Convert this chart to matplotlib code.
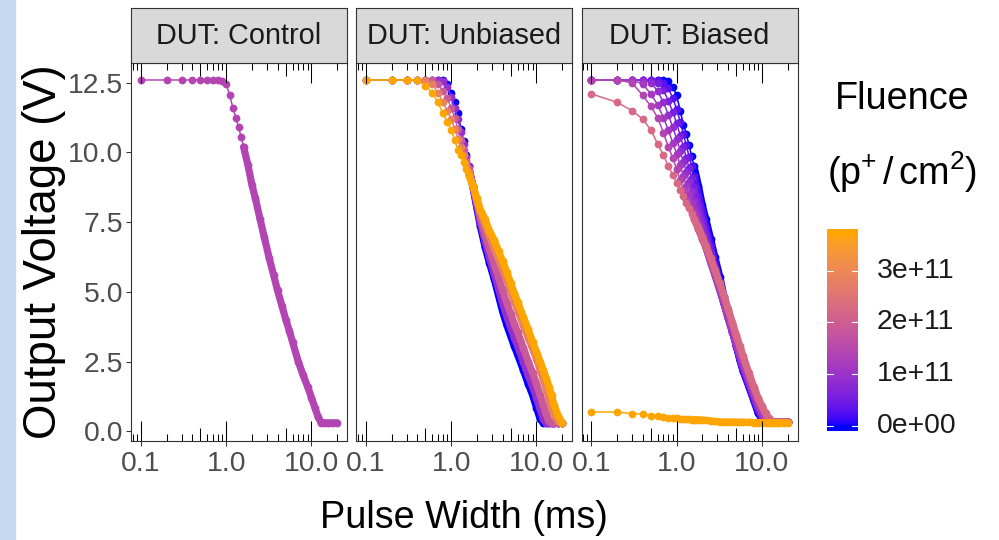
import numpy as np
import matplotlib
matplotlib.use('Agg')
import matplotlib.pyplot as plt
from matplotlib import font_manager
from matplotlib.colors import ListedColormap
from matplotlib.patches import Rectangle
from matplotlib.ticker import NullLocator

# pulse widths (ms) at which every curve was sampled
pulse_ms = [0.1, 0.2, 0.3, 0.4, 0.5, 0.6, 0.7, 0.8, 0.9, 1.0,
            1.1, 1.2, 1.3, 1.4, 1.5, 1.6, 1.8, 2.0, 2.2, 2.5,
            2.8, 3.2, 3.6, 4.0, 4.5, 5.0, 5.5, 6.0, 7.0, 8.0,
            9.0, 10, 11, 12, 13, 14, 15, 16, 18, 20]

# DUT: Control
control_fluence = [1.4e11]
control_v = [
    [12.6, 12.6, 12.6, 12.6, 12.6, 12.6, 12.6, 12.6, 12.58, 12.45,
     12.05, 11.6, 11.25, 10.9, 10.55, 10.2, 9.55, 8.85, 8.35, 7.6,
     6.95, 6.2, 5.6, 5.05, 4.5, 4.0, 3.6, 3.2, 2.5, 2.0,
     1.6, 1.2, 0.83, 0.5, 0.3, 0.3, 0.3, 0.3, 0.3, 0.3],
]

# DUT: Unbiased
unbiased_fluence = [0.0, 0.9e11, 1.85e11, 2.8e11, 3.7e11]
unbiased_v = [
    [12.6, 12.6, 12.6, 12.6, 12.6, 12.6, 12.6, 12.6, 12.45, 12.15,
     11.8, 11.4, 10.85, 10.4, 9.9, 9.5, 8.75, 8.0, 7.35, 6.6,
     6.05, 5.45, 4.85, 4.3, 3.8, 3.4, 3.05, 2.75, 2.2, 1.7,
     1.3, 0.85, 0.45, 0.3, 0.3, 0.3, 0.3, 0.3, 0.3, 0.3],
    [12.6, 12.6, 12.6, 12.6, 12.6, 12.6, 12.6, 12.55, 12.35, 12.0,
     11.6, 11.2, 10.75, 10.3, 9.85, 9.5, 8.8, 8.1, 7.5, 6.8,
     6.25, 5.65, 5.1, 4.6, 4.1, 3.7, 3.35, 3.05, 2.5, 2.0,
     1.6, 1.2, 0.8, 0.45, 0.3, 0.3, 0.3, 0.3, 0.3, 0.3],
    [12.6, 12.6, 12.6, 12.6, 12.6, 12.6, 12.45, 12.2, 11.95, 11.6,
     11.25, 10.85, 10.45, 10.1, 9.7, 9.4, 8.8, 8.2, 7.65, 7.05,
     6.55, 6.0, 5.5, 5.05, 4.6, 4.2, 3.85, 3.55, 3.0, 2.5,
     2.1, 1.7, 1.3, 0.95, 0.6, 0.35, 0.3, 0.3, 0.3, 0.3],
    [12.6, 12.6, 12.6, 12.6, 12.6, 12.45, 12.15, 11.8, 11.5, 11.2,
     10.85, 10.5, 10.2, 9.9, 9.55, 9.3, 8.8, 8.3, 7.85, 7.4,
     7.0, 6.55, 6.15, 5.8, 5.4, 5.0, 4.65, 4.35, 3.8, 3.35,
     2.95, 2.6, 2.2, 1.85, 1.5, 1.15, 0.85, 0.6, 0.35, 0.3],
    [12.6, 12.6, 12.6, 12.6, 12.4, 12.15, 11.8, 11.4, 11.1, 10.8,
     10.45, 10.1, 9.9, 9.65, 9.4, 9.2, 8.8, 8.35, 7.95, 7.6,
     7.2, 6.85, 6.45, 6.1, 5.7, 5.3, 4.95, 4.65, 4.1, 3.65,
     3.2, 2.85, 2.5, 2.2, 1.9, 1.6, 1.3, 0.95, 0.55, 0.3],
]

# DUT: Biased
biased_fluence = [0.0, 0.28e11, 0.56e11, 0.84e11, 1.12e11, 1.4e11, 2.25e11, 3.7e11]
biased_v = [
    [12.6, 12.6, 12.6, 12.6, 12.6, 12.6, 12.6, 12.55, 12.35, 12.05,
     11.5, 11.0, 10.65, 10.25, 9.87, 9.5, 8.8, 8.1, 7.6, 6.9,
     6.25, 5.55, 4.8, 4.25, 3.65, 3.05, 2.55, 2.15, 1.6, 1.1,
     0.65, 0.42, 0.35, 0.33, 0.33, 0.33, 0.33, 0.33, 0.33, 0.33],
    [12.6, 12.6, 12.6, 12.6, 12.6, 12.6, 12.5, 12.3, 11.95, 11.55,
     11.1, 10.65, 10.25, 9.85, 9.5, 9.15, 8.45, 7.85, 7.3, 6.65,
     6.05, 5.35, 4.7, 4.15, 3.6, 3.05, 2.6, 2.2, 1.65, 1.15,
     0.75, 0.48, 0.38, 0.33, 0.33, 0.33, 0.33, 0.33, 0.33, 0.33],
    [12.6, 12.6, 12.6, 12.6, 12.6, 12.5, 12.25, 11.85, 11.45, 11.05,
     10.6, 10.2, 9.8, 9.45, 9.1, 8.75, 8.1, 7.55, 7.05, 6.4,
     5.85, 5.2, 4.6, 4.1, 3.55, 3.1, 2.65, 2.3, 1.75, 1.25,
     0.85, 0.55, 0.4, 0.33, 0.33, 0.33, 0.33, 0.33, 0.33, 0.33],
    [12.6, 12.6, 12.6, 12.6, 12.5, 12.2, 11.8, 11.35, 10.9, 10.5,
     10.05, 9.65, 9.3, 8.95, 8.6, 8.3, 7.75, 7.25, 6.8, 6.2,
     5.7, 5.1, 4.55, 4.05, 3.55, 3.1, 2.7, 2.35, 1.8, 1.3,
     0.9, 0.6, 0.42, 0.35, 0.33, 0.33, 0.33, 0.33, 0.33, 0.33],
    [12.6, 12.6, 12.6, 12.45, 12.1, 11.7, 11.25, 10.8, 10.35, 9.95,
     9.55, 9.15, 8.8, 8.5, 8.2, 7.95, 7.45, 7.0, 6.6, 6.05,
     5.6, 5.05, 4.55, 4.1, 3.6, 3.15, 2.75, 2.4, 1.85, 1.35,
     0.95, 0.65, 0.45, 0.35, 0.33, 0.33, 0.33, 0.33, 0.33, 0.33],
    [12.6, 12.6, 12.5, 12.05, 11.65, 11.25, 10.7, 10.2, 9.8, 9.4,
     9.0, 8.65, 8.3, 8.05, 7.85, 7.65, 7.25, 6.9, 6.6, 6.1,
     5.7, 5.2, 4.75, 4.3, 3.8, 3.35, 2.95, 2.6, 2.0, 1.5,
     1.1, 0.8, 0.55, 0.4, 0.33, 0.33, 0.33, 0.33, 0.33, 0.33],
    [12.1, 11.8, 11.5, 11.2, 10.8, 10.3, 9.9, 9.5, 9.2, 8.9,
     8.67, 8.45, 8.2, 8.0, 7.8, 7.6, 7.3, 6.95, 6.65, 6.2,
     5.8, 5.3, 4.85, 4.4, 3.9, 3.45, 3.05, 2.7, 2.1, 1.6,
     1.2, 0.9, 0.65, 0.46, 0.36, 0.33, 0.33, 0.33, 0.33, 0.33],
    [0.69, 0.69, 0.63, 0.62, 0.56, 0.53, 0.51, 0.49, 0.47, 0.46,
     0.45, 0.44, 0.43, 0.43, 0.42, 0.42, 0.41, 0.40, 0.39, 0.37,
     0.35, 0.34, 0.33, 0.33, 0.33, 0.33, 0.32, 0.32, 0.32, 0.31,
     0.31, 0.31, 0.30, 0.30, 0.30, 0.30, 0.30, 0.30, 0.30, 0.30],
]

panel_titles = ['DUT: Control', 'DUT: Unbiased', 'DUT: Biased']
panel_fluence = [control_fluence, unbiased_fluence, biased_fluence]
panel_v = [control_v, unbiased_v, biased_v]

fluence_max = 3.7e11
cbar_ticks = [0, 1e11, 2e11, 3e11]
cbar_labels = ['0e+00', '1e+11', '2e+11', '3e+11']
x_ticks = [0.1, 1, 10]
x_labels = ['0.1', '1.0', '10.0']
y_ticks = [0, 2.5, 5, 7.5, 10, 12.5]
y_labels = ['0.0', '2.5', '5.0', '7.5', '10.0', '12.5']

# fonts
names = {f.name for f in font_manager.fontManager.ttflist}
if 'Liberation Sans Narrow' in names:
    main_font, k = 'Liberation Sans Narrow', 1.0
else:
    main_font, k = 'Liberation Sans', 0.85
plt.rcParams['font.family'] = [main_font, 'DejaVu Sans']
plt.rcParams['mathtext.fontset'] = 'custom'
plt.rcParams['mathtext.rm'] = main_font
plt.rcParams['mathtext.it'] = main_font


# ggplot style gradient: blue -> orange interpolated in CIELAB
M = np.array([[0.4124, 0.3576, 0.1805],
              [0.2126, 0.7152, 0.0722],
              [0.0193, 0.1192, 0.9505]])
WHITE = np.array([0.95047, 1.0, 1.08883])


def rgb2lab(c):
    c = np.asarray(c, float)
    lin = np.where(c > 0.04045, ((c + 0.055) / 1.055) ** 2.4, c / 12.92)
    xyz = M @ lin / WHITE
    f = np.where(xyz > 0.008856, np.cbrt(xyz), 7.787 * xyz + 16 / 116)
    return np.array([116 * f[1] - 16, 500 * (f[0] - f[1]), 200 * (f[1] - f[2])])


def lab2rgb(lab):
    L, a, b = lab
    fy = (L + 16) / 116
    f = np.array([fy + a / 500, fy, fy - b / 200])
    xyz = np.where(f ** 3 > 0.008856, f ** 3, (f - 16 / 116) / 7.787) * WHITE
    lin = np.linalg.solve(M, xyz)
    lin = np.clip(lin, 0, None)
    c = np.where(lin > 0.0031308, 1.055 * lin ** (1 / 2.4) - 0.055, 12.92 * lin)
    return np.clip(c, 0, 1)


lab_lo = rgb2lab([0, 0, 1])
lab_hi = rgb2lab([1, 165 / 255, 0])
cmap = ListedColormap([lab2rgb(lab_lo + t * (lab_hi - lab_lo)) for t in np.linspace(0, 1, 256)])


def fcolor(f):
    return cmap(min(f / fluence_max, 1.0))


W, H = 999, 540


def box(x0, y0, x1, y1):
    return [x0 / W, 1 - y1 / H, (x1 - x0) / W, (y1 - y0) / H]


fig = plt.figure(figsize=(9.99, 5.4), dpi=100)
fig.patches.append(Rectangle((0, 0), 15 / W, 1, transform=fig.transFigure,
                             color='#C6D9F1', zorder=0))

lefts = [131, 356, 581.5]
pw = 216
ptop, pbot, stop = 62.7, 440.7, 8.3
ph = pbot - ptop

minor_vals, minor_len = [], []
for e in (-2, -1, 0, 1):
    for m in range(1, 10):
        v = m * 10.0 ** e
        if 0.0767 <= v <= 26:
            minor_vals.append(v)
            minor_len.append((20 if m == 1 else 13 if m == 5 else 7) / ph)
minor_len = np.array(minor_len)

xs = np.array(pulse_ms)
dense = xs >= 1.6  # beyond this the real sweep points merge into a solid band

for i, x0 in enumerate(lefts):
    ax = fig.add_axes(box(x0, ptop, x0 + pw, pbot))
    ax.set_xscale('log')
    for f, v in zip(panel_fluence[i], panel_v[i]):
        c = fcolor(f)
        v = np.array(v)
        ax.plot(xs[dense], v[dense], '-', color=c, lw=5.2,
                solid_capstyle='round', solid_joinstyle='round')
        ax.plot(xs, v, '-o', color=c, ms=5.6, mew=0, lw=1.1)
    ax.set_xlim(10 ** -1.115, 10 ** 1.416)
    ax.set_ylim(-0.34, 13.22)
    ax.set_xticks(x_ticks)
    ax.set_xticklabels(x_labels)
    ax.xaxis.set_minor_locator(NullLocator())
    ax.set_yticks(y_ticks)
    ax.set_yticklabels(y_labels)
    ax.tick_params(direction='out', length=3.6, width=0.75, color='#333333',
                   labelsize=24 * k, labelcolor='#4D4D4D', pad=2)
    ax.tick_params(axis='x', pad=3.5)
    if i > 0:
        ax.tick_params(axis='y', left=False, labelleft=False)
    for s in ax.spines.values():
        s.set_color('#333333')
        s.set_linewidth(0.8)
    tr = ax.get_xaxis_transform()
    ax.vlines(minor_vals, 0, minor_len, transform=tr, color='black', lw=0.75)
    ax.vlines(minor_vals, 1 - minor_len, 1, transform=tr, color='black', lw=0.75)

    sx = fig.add_axes(box(x0, stop, x0 + pw, ptop))
    sx.set_facecolor('#D9D9D9')
    sx.set_xticks([])
    sx.set_yticks([])
    for s in sx.spines.values():
        s.set_color('#333333')
        s.set_linewidth(0.8)
    sx.text(0.5, 0.5, panel_titles[i], ha='center', va='center',
            fontsize=24.5 * k, color='#1A1A1A', transform=sx.transAxes)

fig.text(464 / W, 1 - 528 / H, 'Pulse Width (ms)', ha='center', va='baseline',
         fontsize=32 * k)
fig.text(44 / W, 1 - 251.7 / H, 'Output Voltage (V)', rotation=90,
         ha='center', va='center', fontsize=32.8, family='Liberation Sans')

# colour bar
cb_top, cb_bot = 229.3, 431
cax = fig.add_axes(box(827, cb_top, 858, cb_bot))
lo = -fluence_max * 0.5 / 19
hi = fluence_max * (1 + 0.5 / 19)
grad = np.linspace(lo, hi, 300).reshape(-1, 1)
cax.imshow(grad, aspect='auto', cmap=cmap, vmin=0, vmax=fluence_max,
           origin='lower', extent=[0, 1, lo, hi], interpolation='bilinear')
cax.set_xlim(0, 1)
cax.set_ylim(lo, hi)
cax.axis('off')
for t in cbar_ticks:
    cax.plot([0, 0.18], [t, t], color='white', lw=0.8)
    cax.plot([0.82, 1], [t, t], color='white', lw=0.8)
for t, lab in zip(cbar_ticks, cbar_labels):
    ypix = cb_bot - (t - lo) / (hi - lo) * (cb_bot - cb_top)
    fig.text(876.7 / W, 1 - ypix / H, lab, ha='left', va='center',
             fontsize=24 * k, color='#1A1A1A')

fig.text(901.7 / W, 1 - 99 / H, 'Fluence', ha='center', va='center',
         fontsize=32 * k)
fig.text(901.7 / W, 1 - 172 / H, r'$\mathrm{(p^{+}\,/\,cm^{2})}$', ha='center',
         va='center', fontsize=32 * k)

fig.savefig('out.png', dpi=100)
